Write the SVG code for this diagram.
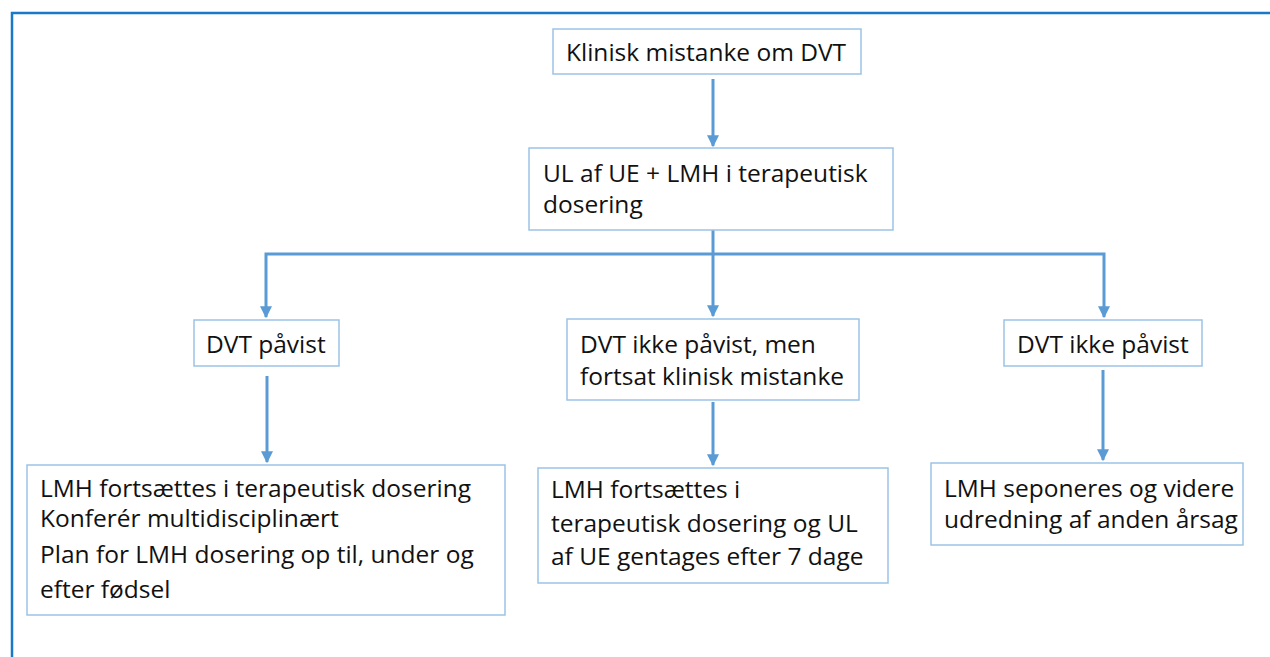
<svg xmlns="http://www.w3.org/2000/svg" width="1270" height="657" viewBox="0 0 1270 657">
<defs>
<style>
.box{fill:#fff;stroke:#9dc3e6;stroke-width:1.5}
.t{font-family:"Open Sans","Liberation Sans",sans-serif;font-size:24.5px;fill:#111}
.c{fill:none;stroke:#5b9bd5;stroke-width:3}
</style>
<marker id="ah" viewBox="0 0 10 10" refX="9" refY="5" markerWidth="4" markerHeight="4" orient="auto" markerUnits="strokeWidth">
<path d="M0,0 L10,5 L0,10 z" fill="#5b9bd5"/>
</marker>
</defs>
<rect width="1270" height="657" fill="#fff"/>
<path d="M12,660 V13 H1275" fill="none" stroke="#1a78c8" stroke-width="2.5"/>
<g id="connectors">
<path class="c" d="M713,79 V146" marker-end="url(#ah)"/>
<path class="c" d="M713,230 V316" marker-end="url(#ah)"/>
<path class="c" d="M713,254 H1104 V317" marker-end="url(#ah)"/>
<path class="c" d="M713,254 H266 V317" marker-end="url(#ah)"/>
<path class="c" d="M267,376 V462" marker-end="url(#ah)"/>
<path class="c" d="M713,402 V465" marker-end="url(#ah)"/>
<path class="c" d="M1103,370 V460" marker-end="url(#ah)"/>
</g>
<g id="n1"><rect class="box" x="553" y="29" width="308" height="45"/><text class="t" x="566" y="61">Klinisk mistanke om DVT</text></g>
<g id="n2"><rect class="box" x="529" y="148" width="364" height="82"/><text class="t"><tspan x="543" y="182">UL af UE + LMH i terapeutisk</tspan><tspan x="543" y="213">dosering</tspan></text></g>
<g id="n3"><rect class="box" x="194" y="320" width="145" height="46"/><text class="t" x="206" y="353">DVT påvist</text></g>
<g id="n4"><rect class="box" x="567" y="319" width="292" height="81"/><text class="t"><tspan x="580" y="353">DVT ikke påvist, men</tspan><tspan x="580" y="385">fortsat klinisk mistanke</tspan></text></g>
<g id="n5"><rect class="box" x="1004" y="320" width="198" height="46"/><text class="t" x="1017" y="353">DVT ikke påvist</text></g>
<g id="n6"><rect class="box" x="27" y="465" width="478" height="150"/><text class="t"><tspan x="40" y="497">LMH fortsættes i terapeutisk dosering</tspan><tspan x="40" y="527">Konferér multidisciplinært</tspan><tspan x="40" y="563">Plan for LMH dosering op til, under og</tspan><tspan x="40" y="598">efter fødsel</tspan></text></g>
<g id="n7"><rect class="box" x="538" y="468" width="350" height="115"/><text class="t"><tspan x="551" y="498">LMH fortsættes i</tspan><tspan x="551" y="532">terapeutisk dosering og UL</tspan><tspan x="551" y="565">af UE gentages efter 7 dage</tspan></text></g>
<g id="n8"><rect class="box" x="931" y="463" width="312" height="82"/><text class="t"><tspan x="944" y="497">LMH seponeres og videre</tspan><tspan x="944" y="528">udredning af anden årsag</tspan></text></g>
</svg>
